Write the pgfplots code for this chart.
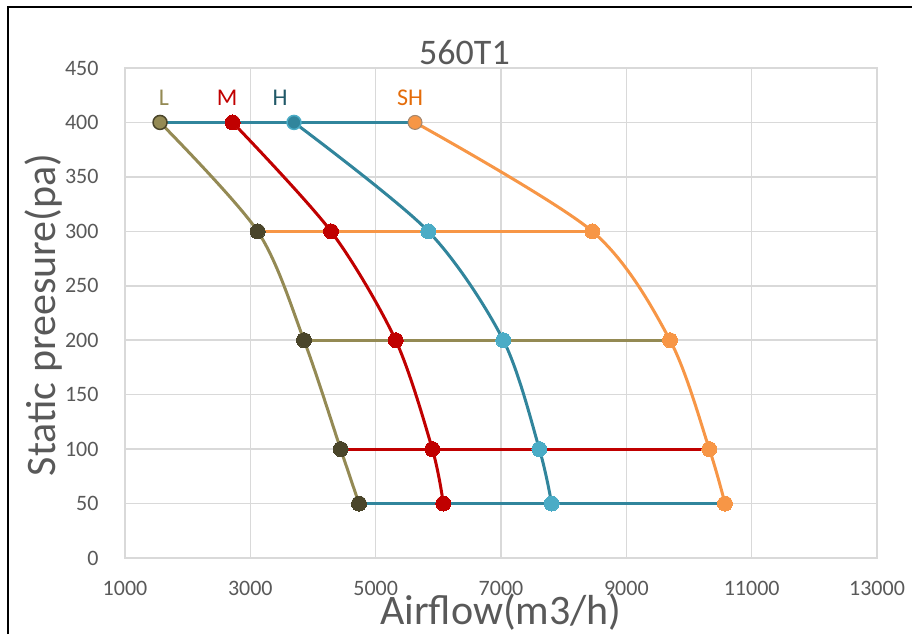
\documentclass[border=0pt]{standalone}
\usepackage{fontspec}
\setmainfont{Carlito}
\usepackage{pgfplots}
\pgfplotsset{compat=1.18}
\definecolor{cL}{HTML}{948A54}
\definecolor{cLd}{HTML}{4A452A}
\definecolor{cM}{HTML}{C00000}
\definecolor{cH}{HTML}{31859C}
\definecolor{cHl}{HTML}{4BACC6}
\definecolor{cSH}{HTML}{F79646}
\definecolor{cSHt}{HTML}{E46C0A}
\definecolor{cHt}{HTML}{215968}
\definecolor{tickc}{HTML}{595959}
\definecolor{gridc}{HTML}{D9D9D9}
\begin{document}
\begin{tikzpicture}[x=1pt,y=1pt]
\path[use as bounding box] (0,0) rectangle (912,634);
\draw[line width=2pt, black] (7.5,0) -- (7.5,626.5) -- (912,626.5);
\begin{axis}[at={(125pt,76pt)}, anchor=south west, scale only axis,
  width=752pt, height=490pt,
  xmin=1000, xmax=13000, ymin=0, ymax=450,
  xtick={1000,3000,...,13000}, ytick={0,50,...,450},
  scaled ticks=false,
  grid=major, major grid style={draw=gridc, line width=1.5pt},
  axis line style={draw=gridc, line width=1.5pt},
  tick style={draw=none},
  ticklabel style={font=\fontsize{22}{26}\selectfont, text=tickc, inner sep=0pt},
  xticklabel style={anchor=north, yshift=-22pt},
  yticklabel style={anchor=east, xshift=-25pt},
  /pgf/number format/assume math mode=true,
  /pgf/number format/1000 sep={},
  /pgf/number format/fixed,
  clip=false,
  line width=3pt,
]
% curves
\addplot[cL, smooth, no marks] coordinates {(1559,400) (3117,300) (3856,200) (4441,100) (4734,50)};
\addplot[cM, smooth, no marks] coordinates {(2718,400) (4287,300) (5319,200) (5904,100) (6080,50)};
\addplot[cH, smooth, no marks] coordinates {(3697,400) (5840,300) (7037,200) (7612,100) (7808,50)};
\addplot[cSH, smooth, no marks] coordinates {(5628,400) (8457,300) (9697,200) (10324,100) (10574,50)};
% horizontal lines
\addplot[cH, no marks] coordinates {(1559,400) (5628,400)};
\addplot[cSH, no marks] coordinates {(3117,300) (8457,300)};
\addplot[cL, no marks] coordinates {(3856,200) (9697,200)};
\addplot[cM, no marks] coordinates {(4441,100) (10324,100)};
\addplot[cH, no marks] coordinates {(4734,50) (10574,50)};
% markers
\addplot[only marks, mark=*, mark size=7.5pt, mark options={fill=cLd, draw=cLd, line width=0pt}] coordinates {(3117,300) (3856,200) (4441,100) (4734,50)};
\addplot[only marks, mark=*, mark size=7.5pt, mark options={fill=cM, draw=cM, line width=0pt}] coordinates {(2718,400) (4287,300) (5319,200) (5904,100) (6080,50)};
\addplot[only marks, mark=*, mark size=7.5pt, mark options={fill=cHl, draw=cHl, line width=0pt}] coordinates {(5840,300) (7037,200) (7612,100) (7808,50)};
\addplot[only marks, mark=*, mark size=7.5pt, mark options={fill=cSH, draw=cSH, line width=0pt}] coordinates {(8457,300) (9697,200) (10324,100) (10574,50)};
\addplot[only marks, mark=*, mark size=7pt, mark options={fill=cL, draw=cLd, line width=1.5pt}] coordinates {(1559,400)};
\addplot[only marks, mark=*, mark size=7pt, mark options={fill=cH, draw=cHl, line width=1.5pt}] coordinates {(3697,400)};
\addplot[only marks, mark=*, mark size=7pt, mark options={fill=cSH, draw=gray!70!cSH, line width=1pt}] coordinates {(5628,400)};
% series labels
\node[text=cL, anchor=base, font=\fontsize{24}{28}\selectfont] at (axis cs:1622,416) {L};
\node[text=cM, anchor=base, font=\fontsize{24}{28}\selectfont] at (axis cs:2628,416) {M};
\node[text=cHt, anchor=base, font=\fontsize{24}{28}\selectfont] at (axis cs:3473,416) {H};
\node[text=cSHt, anchor=base, font=\fontsize{24}{28}\selectfont] at (axis cs:5548,416) {SH};
\end{axis}
\node[anchor=base, text=tickc, font=\fontsize{36}{40}\selectfont] at (464.5,569) {560T1};
\node[anchor=base, text=tickc, font=\fontsize{42}{46}\selectfont] at (501,10) {Airflow(m3/h)};
\node[anchor=base, rotate=90, text=tickc, font=\fontsize{42}{46}\selectfont] at (55,319) {Static preesure(pa)};
\end{tikzpicture}
\end{document}
